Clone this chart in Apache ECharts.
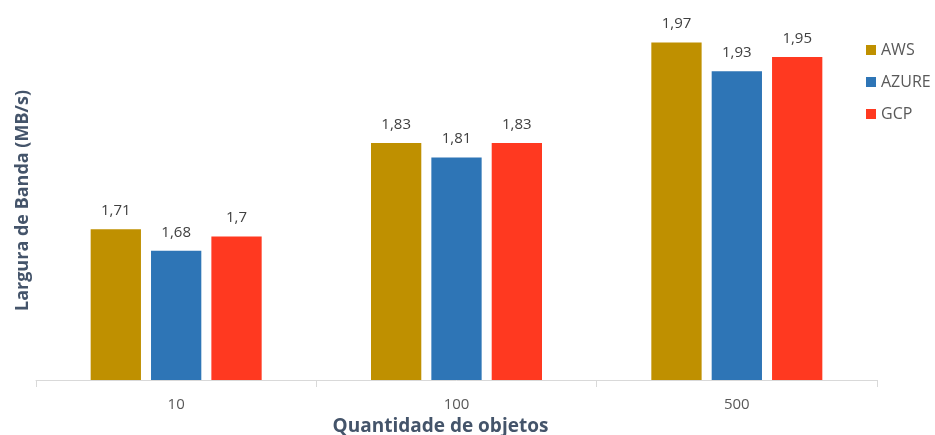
<!DOCTYPE html>
<html>
<head>
<meta charset="utf-8">
<script src="https://cdn.jsdelivr.net/npm/echarts@6/dist/echarts.min.js"></script>
<style>
  html, body { margin: 0; padding: 0; background: #fff; }
  #main { width: 935px; height: 435px; }
</style>
</head>
<body>
<div id="main"></div>
<script>
var categories = ['10', '100', '500'];
var seriesNames = ['AWS', 'AZURE', 'GCP'];
var aws = [1.71, 1.83, 1.97];
var azure = [1.68, 1.81, 1.93];
var gcp = [1.7, 1.83, 1.95];
var colors = ['#BF9000', '#2E75B6', '#FF3920'];

var font = 'Open Sans';

function makeSeries(name, data, color) {
    return {
        name: name,
        type: 'bar',
        data: data,
        barGap: '20%',
        barCategoryGap: '39%',
        itemStyle: {color: color},
        label: {
            show: true,
            position: 'top',
            distance: 11,
            color: '#404040',
            fontFamily: font,
            fontSize: 15,
            formatter: function (p) {
                return String(p.value).replace('.', ',');
            }
        }
    };
}

var chart = echarts.init(document.getElementById('main'));
chart.setOption({
    animation: false,
    backgroundColor: '#fff',
    grid: {left: 36, right: 58, top: 21, bottom: 55, outerBoundsMode: 'none', containLabel: false},
    legend: {
        orient: 'vertical',
        left: 861,
        top: 35,
        itemWidth: 10,
        itemHeight: 10,
        itemGap: 12,
        icon: 'rect',
        data: seriesNames,
        textStyle: {color: '#595959', fontFamily: font, fontSize: 16, lineHeight: 20}
    },
    xAxis: {
        type: 'category',
        data: categories,
        axisLine: {lineStyle: {color: '#D9D9D9', width: 1}},
        axisTick: {show: true, length: 7, lineStyle: {color: '#D9D9D9'}},
        axisLabel: {color: '#595959', fontFamily: font, fontSize: 15, margin: 17},
        name: 'Quantidade de objetos',
        nameLocation: 'middle',
        nameGap: 22,
        nameTextStyle: {
            color: '#44546A', fontFamily: font, fontSize: 19, fontWeight: 'bold',
            verticalAlign: 'top',
            padding: [0, 32, 0, 0]
        }
    },
    yAxis: {
        type: 'value',
        min: 1.5,
        max: 2.0,
        axisLine: {show: false},
        axisTick: {show: false},
        axisLabel: {show: false},
        splitLine: {show: false},
        name: 'Largura de Banda (MB/s)',
        nameLocation: 'middle',
        nameGap: 4,
        nameRotate: 90,
        nameTextStyle: {color: '#44546A', fontFamily: font, fontSize: 18, fontWeight: 'bold'}
    },
    series: [
        makeSeries(seriesNames[0], aws, colors[0]),
        makeSeries(seriesNames[1], azure, colors[1]),
        makeSeries(seriesNames[2], gcp, colors[2])
    ]
});
</script>
</body>
</html>
